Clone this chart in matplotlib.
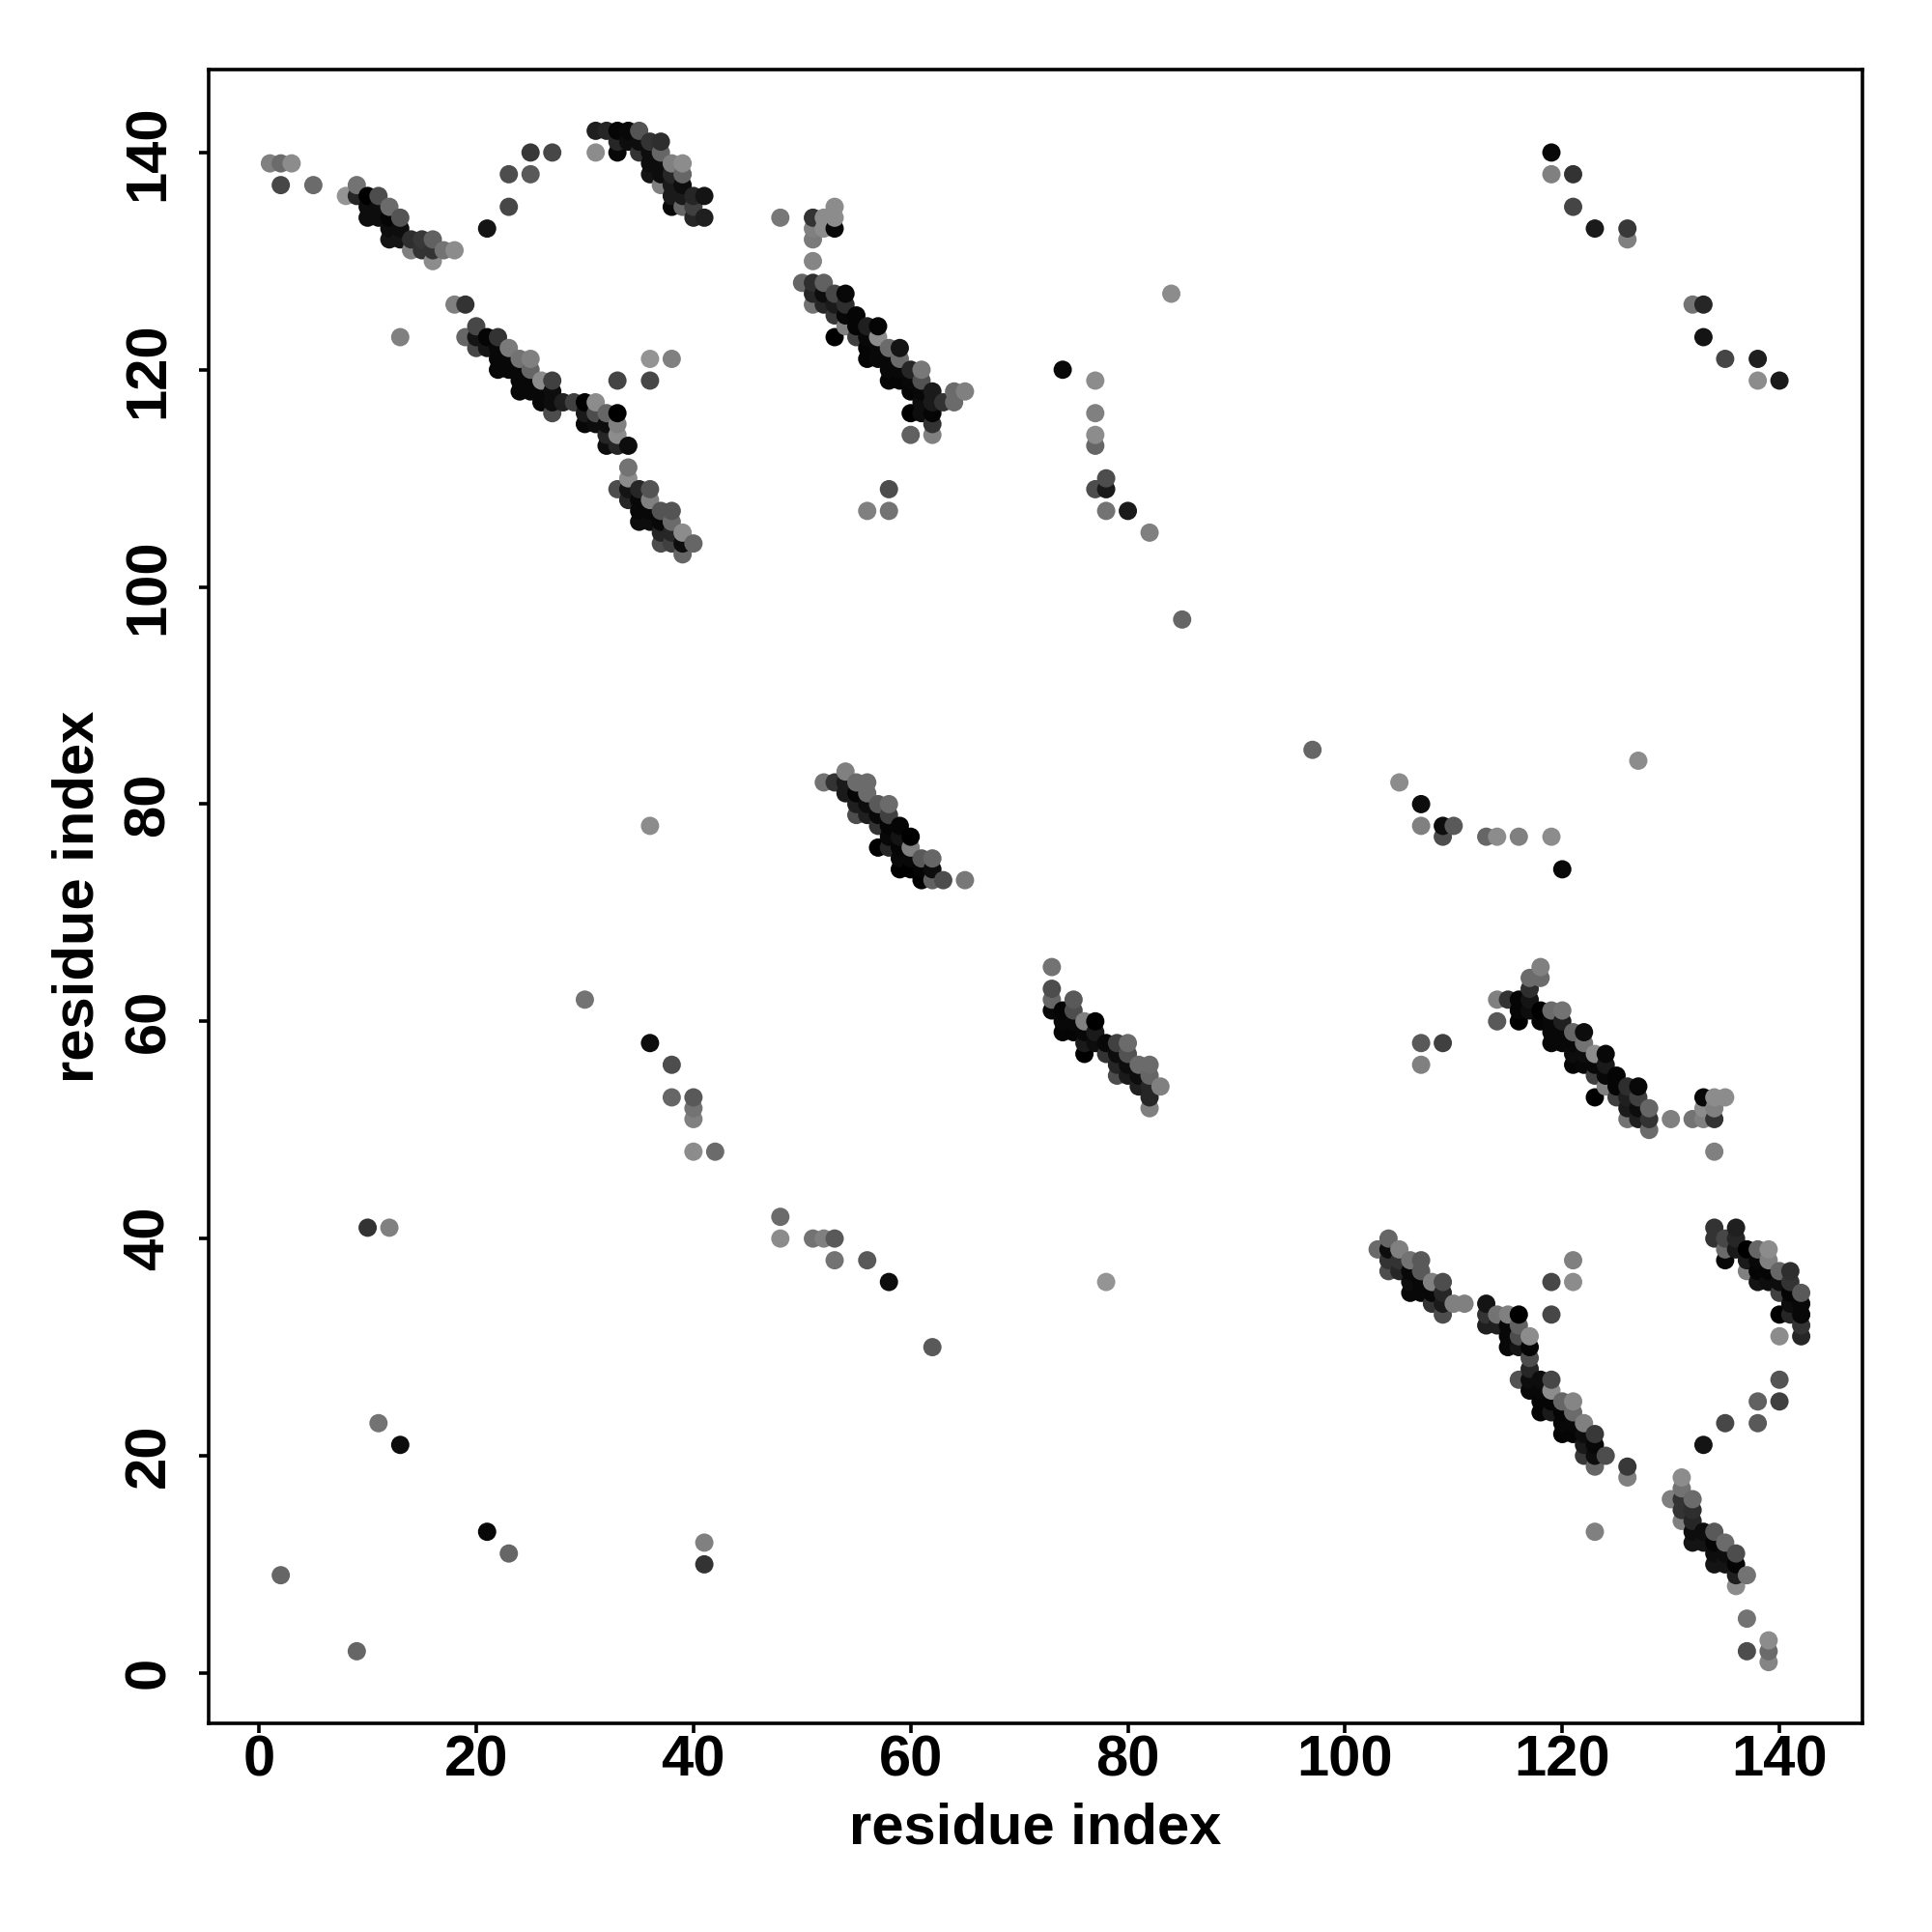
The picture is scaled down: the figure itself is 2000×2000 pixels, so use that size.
import numpy as np
from matplotlib import pyplot as plt

plt.rcParams['font.family'] = ['Liberation Sans', 'DejaVu Sans']

# (residue x, residue y, gray level), one list per region
arc_top_left = [
    (1,139,.5),(2,139,.42),(3,139,.55),(2,137,.28),(5,137,.42),
    (8,136,.58),(9,137,.45),(9,136,.15),(10,136,.0),(11,136,.3),(12,135,.42),(13,134,.33),
    (10,135,.05),(11,135,.05),(10,134,.05),(11,134,.05),(12,134,.02),(12,133,.05),(13,133,.05),
    (12,132,.08),(13,132,.08),(14,132,.18),(15,132,.22),(16,132,.38),(14,131,.5),(15,131,.2),
    (16,131,.2),(17,131,.45),(18,131,.55),(16,130,.55),
    (21,133,.08),(23,135,.28),(23,138,.3),(25,138,.35),(25,140,.22),(27,140,.28),
]
arc_top = [
    (31,142,.12),(32,142,.15),(33,142,.02),(34,142,.03),(35,142,.33),(31,140,.55),(33,140,.03),
    (33,141,.15),(34,141,.05),(35,141,.05),(36,141,.2),(37,141,.18),(35,140,.2),(36,140,.05),
    (37,140,.4),(38,139,.5),(39,139,.55),(36,139,.05),(37,139,.05),(36,138,.08),(37,138,.05),
    (38,138,.15),(39,138,.4),(37,137,.5),(38,137,.1),(39,137,.05),(38,136,.1),(39,136,.1),
    (40,136,.15),(41,136,.08),(38,135,.03),(39,135,.4),(40,135,.25),(40,134,.15),(41,134,.12),
]
band_20_120 = [
    (18,126,.5),(19,126,.2),(13,123,.5),(20,124,.28),(19,123,.4),(20,123,.08),(21,123,.02),
    (22,123,.2),(20,122,.28),(21,122,.08),(22,122,.03),(23,122,.48),(24,121,.45),(25,121,.5),
    (22,121,.03),(23,121,.03),(22,120,.03),(23,120,.03),(24,120,.03),(25,120,.4),(26,119,.55),
    (27,119,.25),(24,119,.03),(25,119,.03),(24,118,.03),(25,118,.03),(26,118,.03),(27,118,.05),
    (26,117,.03),(27,117,.05),(28,117,.12),(29,117,.25),(30,117,.0),(31,117,.55),(27,116,.3),
    (30,116,.1),(31,116,.3),(32,116,.4),(33,116,.0),(30,115,.03),(31,115,.05),(32,115,.05),
    (33,115,.5),(32,114,.15),(33,114,.55),(32,113,.05),(33,113,.15),(34,113,.05),
    (33,119,.27),(36,119,.28),(36,121,.58),(38,121,.5),
]
band_35_105 = [
    (34,111,.45),(34,110,.55),(33,109,.3),(34,109,.08),(35,109,.15),(36,109,.33),(34,108,.15),
    (35,108,.03),(36,108,.5),(35,107,.03),(36,107,.03),(37,107,.33),(38,107,.33),(35,106,.05),
    (36,106,.05),(37,106,.03),(38,106,.42),(37,105,.15),(38,105,.15),(39,105,.55),(37,104,.3),
    (38,104,.25),(39,104,.05),(40,104,.4),(39,103,.4),
]
band_55_120 = [
    (48,134,.47),(51,134,.2),(52,134,.55),(53,135,.55),(53,134,.55),(53,133,.03),(51,133,.5),
    (52,133,.55),(51,132,.48),(51,130,.52),(50,128,.4),(51,128,.18),(52,128,.38),(51,127,.15),
    (52,127,.05),(53,127,.28),(54,127,.03),(51,126,.45),(52,126,.15),(53,126,.1),(54,126,.18),
    (53,125,.22),(54,125,.03),(55,125,.02),(54,124,.5),(55,124,.02),(56,124,.12),(57,124,.02),
    (53,123,.0),(55,123,.25),(56,123,.03),(57,123,.55),(58,122,.42),(59,122,.08),(56,122,.02),
    (57,122,.03),(56,121,.02),(57,121,.03),(58,121,.03),(59,121,.42),(58,120,.03),(59,120,.03),
    (60,120,.15),(61,120,.47),(58,119,.02),(59,119,.02),(60,119,.03),(61,119,.32),(60,118,.02),
    (61,118,.03),(62,118,.1),(64,118,.42),(65,118,.5),(61,117,.05),(62,117,.1),(63,117,.2),
    (64,117,.42),(60,116,.0),(61,116,.05),(62,116,.02),(62,115,.2),(60,114,.38),(62,114,.5),
    (56,107,.5),(58,107,.45),(58,109,.3),
]
sparse_upper = [
    (74,120,.03),(84,127,.55),(77,119,.55),(77,116,.5),(77,114,.55),(77,113,.4),(78,110,.3),
    (77,109,.3),(78,109,.1),(78,107,.45),(80,107,.1),(82,105,.5),(85,97,.4),(97,85,.4),
    (105,82,.55),(107,80,.05),(107,78,.5),(109,78,.05),(110,78,.35),(109,77,.3),(113,77,.4),
    (114,77,.55),(116,77,.5),(119,77,.55),(120,74,.03),(127,84,.55),(36,78,.55),
    (119,140,.03),(119,138,.5),(121,138,.2),(121,135,.27),(123,133,.1),(126,133,.22),
    (126,132,.5),(132,126,.45),(133,126,.15),(133,123,.08),(135,121,.27),(138,121,.12),
    (138,119,.55),(140,119,.1),
]
band_55_80 = [
    (52,82,.45),(53,82,.2),(54,83,.5),(55,82,.42),(56,82,.42),(54,82,.1),(54,81,.1),(55,81,.02),
    (56,81,.42),(55,80,.12),(56,80,.05),(57,80,.35),(58,80,.42),(55,79,.3),(56,79,.12),
    (57,79,.03),(58,79,.25),(57,78,.2),(58,78,.02),(59,78,.02),(58,77,.03),(59,77,.08),
    (60,77,.0),(57,76,.0),(58,76,.15),(59,76,.02),(60,76,.5),(59,75,.03),(60,75,.03),
    (61,75,.35),(62,75,.4),(59,74,.0),(60,74,.0),(61,74,.02),(62,74,.05),(61,73,.0),
    (62,73,.38),(63,73,.3),(65,73,.47),
]
band_75_60 = [
    (73,65,.45),(73,63,.3),(73,62,.4),(73,61,.03),(74,61,.02),(75,62,.35),(75,61,.3),(74,60,.03),
    (75,60,.03),(76,60,.5),(77,60,.0),(74,59,.02),(75,59,.02),(76,59,.03),(77,59,.1),(76,58,.1),
    (77,58,.05),(78,58,.03),(79,58,.25),(80,58,.42),(76,57,.0),(78,57,.2),(79,57,.05),(80,57,.32),
    (79,56,.15),(80,56,.05),(81,56,.42),(82,56,.42),(79,55,.3),(80,55,.1),(81,55,.05),(82,55,.4),
    (81,54,.12),(82,54,.15),(83,54,.5),(82,53,.15),(82,52,.5),
]
sparse_lower = [
    (30,62,.45),(36,58,.05),(38,56,.3),(38,53,.4),(40,53,.35),(40,52,.45),(40,51,.5),(40,48,.55),
    (42,48,.42),(48,42,.42),(48,40,.55),(51,40,.45),(52,40,.5),(53,40,.35),(53,38,.45),(56,38,.35),
    (58,36,.05),(62,30,.35),(78,36,.58),(10,41,.2),(12,41,.5),(11,23,.45),(13,21,.05),(21,13,.03),
    (23,11,.4),(41,12,.5),(41,10,.2),(2,9,.4),(9,2,.4),(107,58,.35),(107,56,.5),(109,58,.25),
]
band_120_60 = [
    (114,62,.5),(115,62,.2),(114,60,.35),(116,62,.02),(117,62,.08),(117,63,.18),(117,64,.42),
    (118,64,.42),(118,65,.5),(116,61,.02),(117,61,.05),(118,61,.0),(119,61,.42),(120,61,.45),
    (116,60,.0),(118,60,.02),(119,60,.03),(120,60,.12),(119,59,.03),(120,59,.03),(121,59,.4),
    (122,59,.05),(119,58,.03),(120,58,.03),(121,58,.03),(122,58,.45),(121,57,.05),(122,57,.05),
    (123,57,.55),(124,57,.03),(121,56,.02),(122,56,.03),(123,56,.03),(124,56,.1),(123,55,.25),
    (124,55,.03),(125,55,.02),(123,53,.0),(124,54,.5),(125,54,.02),(126,54,.18),(127,54,.03),
    (125,53,.25),(126,53,.12),(127,53,.25),(126,52,.1),(127,52,.05),(128,52,.4),(126,51,.45),
    (127,51,.12),(128,51,.2),(128,50,.42),(130,51,.5),(132,51,.45),(133,51,.5),(134,51,.2),
    (133,52,.55),(134,52,.5),(133,53,.03),(134,53,.55),(135,53,.55),(134,48,.5),
]
band_105_35 = [
    (103,39,.42),(104,40,.4),(104,39,.05),(105,39,.5),(104,38,.2),(105,38,.2),(106,38,.45),
    (107,38,.35),(104,37,.3),(105,37,.15),(106,37,.03),(107,37,.35),(106,36,.05),(107,36,.03),
    (108,36,.5),(109,36,.3),(106,35,.03),(107,35,.03),(108,35,.03),(109,35,.15),(108,34,.2),
    (109,34,.1),(110,34,.5),(111,34,.5),(109,33,.3),
]
band_120_25 = [
    (113,34,.08),(113,33,.2),(114,33,.45),(115,33,.5),(116,33,.0),(113,32,.12),(114,32,.12),
    (115,32,.03),(116,32,.38),(115,31,.03),(116,31,.3),(117,31,.55),(115,30,.03),(116,30,.08),
    (117,30,.02),(117,29,.3),(117,28,.15),(116,27,.32),(117,27,.05),(118,27,.05),(119,27,.28),
    (117,26,.03),(118,26,.03),(119,26,.55),(118,25,.02),(119,25,.02),(120,25,.4),(121,25,.52),
    (118,24,.02),(119,24,.1),(120,24,.02),(121,24,.42),(120,23,.03),(121,23,.03),(122,23,.5),
    (120,22,.02),(121,22,.02),(122,22,.05),(123,22,.22),(122,21,.1),(123,21,.03),(122,20,.22),
    (123,20,.05),(124,20,.3),(123,19,.4),(126,19,.22),(126,18,.5),(123,13,.5),
    (121,38,.5),(121,36,.55),(119,36,.28),(119,33,.28),
]
band_135_10 = [
    (130,16,.5),(131,18,.55),(131,17,.45),(131,16,.2),(132,16,.42),(131,15,.2),(132,15,.18),
    (131,14,.5),(132,14,.15),(132,13,.05),(133,13,.05),(134,13,.35),(132,12,.08),(133,12,.08),
    (134,12,.02),(135,12,.42),(136,11,.3),(134,11,.05),(135,11,.05),(134,10,.08),(135,10,.08),
    (136,10,.02),(136,9,.12),(137,9,.45),(136,8,.55),(137,5,.45),(137,2,.3),(139,3,.55),
    (139,2,.42),(139,1,.52),
]
arc_bottom_right = [
    (133,21,.08),(135,23,.28),(138,23,.35),(138,25,.38),(140,25,.25),(140,27,.33),
    (134,41,.2),(136,41,.12),(134,40,.2),(135,40,.28),(136,40,.15),(135,39,.42),(136,39,.1),
    (137,39,.0),(138,39,.4),(139,39,.55),(135,38,.03),(137,38,.1),(138,38,.03),(139,38,.5),
    (137,37,.5),(138,37,.02),(139,37,.02),(140,37,.4),(141,37,.18),(138,36,.08),(139,36,.05),
    (140,36,.05),(141,36,.2),(140,35,.25),(141,35,.02),(142,35,.35),(141,34,.05),(142,34,.03),
    (140,33,.0),(141,33,.15),(142,33,.03),(142,32,.2),(140,31,.55),(142,31,.15),
]

tick_values = [0, 20, 40, 60, 80, 100, 120, 140]

pts = np.array(arc_top_left + arc_top + band_20_120 + band_35_105 + band_55_120 + sparse_upper
               + band_55_80 + band_75_60 + sparse_lower + band_120_60 + band_105_35
               + band_120_25 + band_135_10 + arc_bottom_right)
# later x, then later y, is painted on top
pts = pts[np.lexsort((pts[:, 1], pts[:, 0]))]

fig = plt.figure(figsize=(20, 20), dpi=100)
axs = fig.add_axes([216/2000, 216/2000, 1712/2000, 1712/2000])

axs.scatter(pts[:, 0], pts[:, 1], s=186, c=[str(g) for g in pts[:, 2]], linewidths=0)

axs.set_xlim(-4.64, 147.64)
axs.set_ylim(-4.64, 147.64)
axs.set_xticks(tick_values)
axs.set_yticks(tick_values)
axs.tick_params(length=7.5, width=2.6, labelsize=43)
axs.tick_params(axis='x', pad=1)
axs.tick_params(axis='y', pad=17)
for lab in axs.get_xticklabels():
    lab.set_fontweight('bold')
for lab in axs.get_yticklabels():
    lab.set_fontweight('bold')
    lab.set_rotation(90)
    lab.set_va('center')
for side in axs.spines.values():
    side.set_linewidth(2.6)

axs.set_xlabel('residue index', fontsize=43, fontweight='bold', labelpad=10.5)
axs.set_ylabel('residue index', fontsize=43, fontweight='bold', labelpad=13)

fig.savefig('out.png', dpi=100, facecolor='white')
